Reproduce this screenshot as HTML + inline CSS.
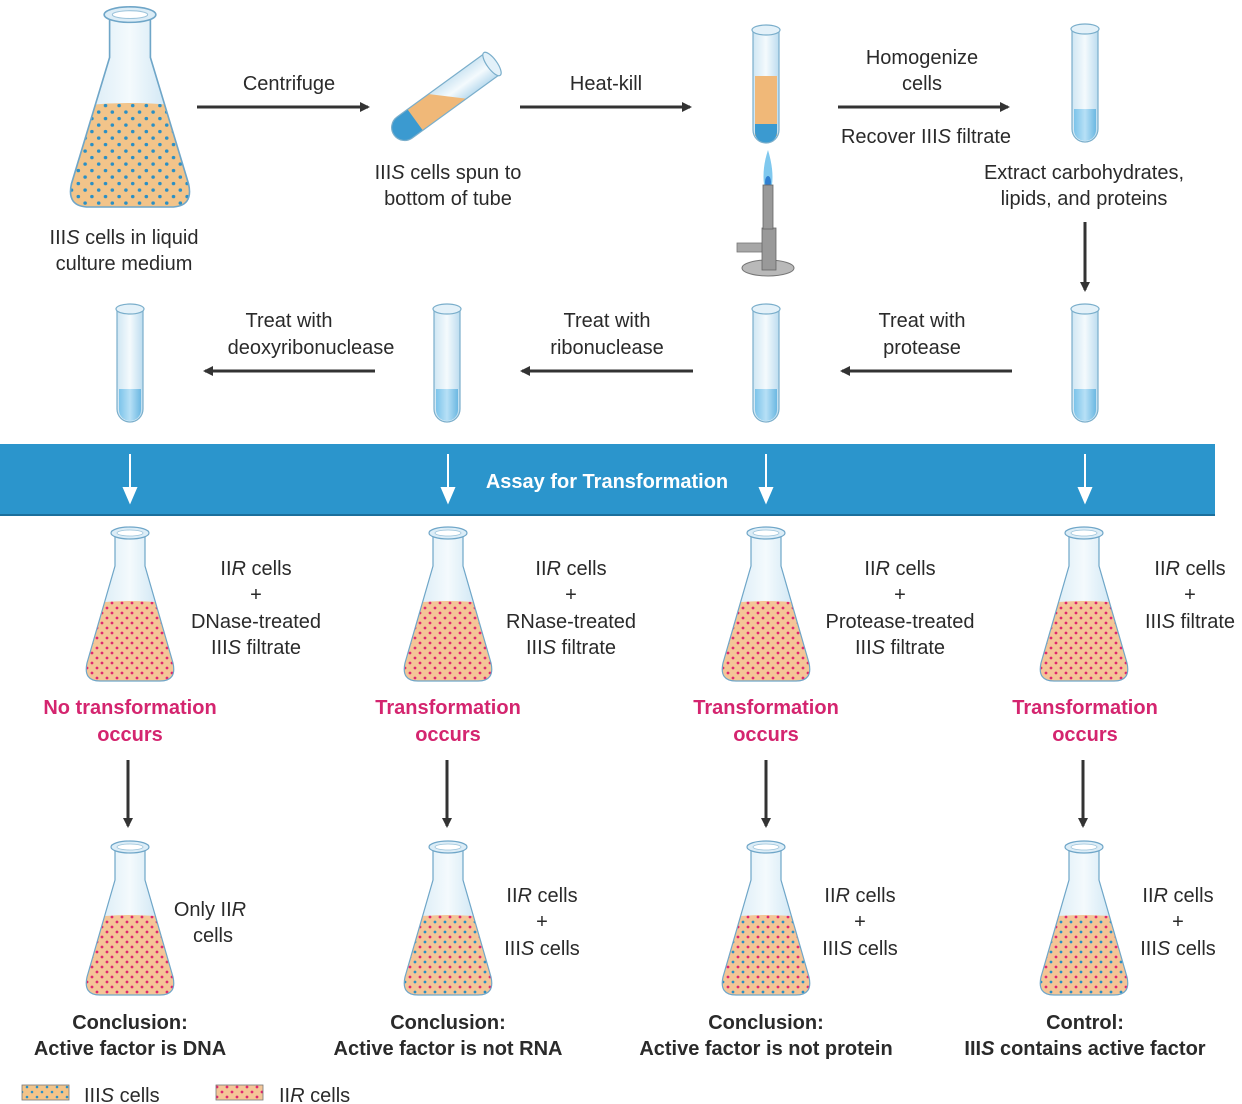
<!DOCTYPE html>
<html><head><meta charset="utf-8"><style>
html,body{margin:0;padding:0;background:#fff;}
svg{display:block;}
text{font-family:"Liberation Sans",sans-serif;font-size:20px;fill:#2a2a2a;}
.b{font-weight:bold;}
.r{fill:#d4256f;font-weight:bold;}
.c{text-anchor:middle;}
</style></head><body>
<svg width="1242" height="1104" viewBox="0 0 1242 1104" xmlns="http://www.w3.org/2000/svg">
<defs>
<pattern id="pb" width="10" height="10" patternUnits="userSpaceOnUse">
<rect width="10" height="10" fill="#f2c48a"/><circle cx="2" cy="2" r="1.3" fill="#2a8fc4"/><circle cx="7" cy="7" r="1.3" fill="#2a8fc4"/></pattern>
<pattern id="pr" width="10" height="10" patternUnits="userSpaceOnUse">
<rect width="10" height="10" fill="#f4c597"/><circle cx="2" cy="2" r="1.4" fill="#e0286e"/><circle cx="7" cy="7" r="1.4" fill="#e0286e"/></pattern>
<pattern id="pm" width="10" height="10" patternUnits="userSpaceOnUse">
<rect width="10" height="10" fill="#f4c597"/><circle cx="2" cy="2" r="1.4" fill="#e0286e"/><circle cx="7" cy="7" r="1.4" fill="#2a8fc4"/></pattern>
<linearGradient id="gl" x1="0" x2="1"><stop offset="0" stop-color="#cfe6f3"/><stop offset="0.5" stop-color="#f4fafd"/><stop offset="1" stop-color="#bcdcef"/></linearGradient>
<linearGradient id="wb" x1="0" x2="1"><stop offset="0" stop-color="#7cc4ea"/><stop offset="0.5" stop-color="#b7e0f6"/><stop offset="1" stop-color="#6cb8e2"/></linearGradient>
<clipPath id="fc"><path d="M-15,4 L-15,35 L-43,132 Q-47,150 -30,150 L30,150 Q47,150 43,132 L15,35 L15,4 Z"/></clipPath>
<clipPath id="tc"><path d="M-13,0 L-13,108 A13,13 0 0 0 13,108 L13,0 Z"/></clipPath>
<marker id="ah" markerWidth="10" markerHeight="10" refX="8" refY="5" orient="auto" markerUnits="userSpaceOnUse"><path d="M0,0 L10,5 L0,10 Z" fill="#333"/></marker>
<g id="glass">
<path d="M-15,4 L-15,35 L-43,132 Q-47,150 -30,150 L30,150 Q47,150 43,132 L15,35 L15,4 Z" fill="none" stroke="#6fa6c8" stroke-width="1.2"/>
<ellipse cx="0" cy="2" rx="19" ry="6" fill="#dcedf7" stroke="#6fa6c8" stroke-width="1.2"/><ellipse cx="0" cy="2" rx="13" ry="3" fill="#fff" stroke="#9cc3da" stroke-width="0.8"/>
</g>
<path id="fbody" d="M-15,4 L-15,35 L-43,132 Q-47,150 -30,150 L30,150 Q47,150 43,132 L15,35 L15,4 Z" fill="url(#gl)"/>
<g id="fB"><use href="#fbody"/><g clip-path="url(#fc)"><path d="M-50,74 Q0,66 50,74 L50,155 L-50,155 Z" fill="url(#pb)"/></g><use href="#glass"/></g>
<g id="fR"><use href="#fbody"/><g clip-path="url(#fc)"><path d="M-50,74 Q0,66 50,74 L50,155 L-50,155 Z" fill="url(#pr)"/></g><use href="#glass"/></g>
<g id="fM"><use href="#fbody"/><g clip-path="url(#fc)"><path d="M-50,74 Q0,66 50,74 L50,155 L-50,155 Z" fill="url(#pm)"/></g><use href="#glass"/></g>
<g id="tube"><path d="M-13,0 L-13,100 A13,13 0 0 0 13,100 L13,0 Z" fill="url(#gl)" stroke="#7aaecb" stroke-width="1.2"/><path d="M-11,80 L11,80 L11,101 A11,11 0 0 1 -11,101 Z" fill="url(#wb)"/><ellipse cx="0" cy="0" rx="14" ry="5" fill="#e3f1f9" stroke="#7aaecb" stroke-width="1.2"/></g>
</defs>

<use href="#fB" transform="translate(130,12) scale(1.36,1.3)"/>
<text class="c" x="124" y="244">III<tspan font-style="italic">S</tspan> cells in liquid</text>
<text class="c" x="124" y="270">culture medium</text>

<line x1="197" y1="107" x2="368" y2="107" stroke="#333" stroke-width="3" marker-end="url(#ah)"/>
<text class="c" x="289" y="90">Centrifuge</text>

<g transform="translate(492,64) rotate(54)">
<path d="M-13,0 L-13,108 A13,13 0 0 0 13,108 L13,0 Z" fill="url(#gl)"/>
<g clip-path="url(#tc)"><path d="M-14,70 L14,40 L14,130 L-14,130 Z" fill="#f0b878"/><rect x="-14" y="95" width="28" height="30" fill="#3b9ad0"/></g>
<path d="M-13,0 L-13,108 A13,13 0 0 0 13,108 L13,0 Z" fill="none" stroke="#7aaecb" stroke-width="1.2"/>
<ellipse cx="0" cy="0" rx="14" ry="5" fill="#e3f1f9" stroke="#7aaecb" stroke-width="1.2"/>
</g>
<text class="c" x="448" y="179">III<tspan font-style="italic">S</tspan> cells spun to</text>
<text class="c" x="448" y="205">bottom of tube</text>

<line x1="520" y1="107" x2="690" y2="107" stroke="#333" stroke-width="3" marker-end="url(#ah)"/>
<text class="c" x="606" y="90">Heat-kill</text>

<g transform="translate(766,30)">
<path d="M-13,0 L-13,100 A13,13 0 0 0 13,100 L13,0 Z" fill="url(#gl)"/>
<rect x="-11" y="46" width="22" height="60" fill="#f0b878"/><path d="M-11,94 L11,94 L11,102 A11,11 0 0 1 -11,102 Z" fill="#3b9ad0"/>
<path d="M-13,0 L-13,100 A13,13 0 0 0 13,100 L13,0 Z" fill="none" stroke="#7aaecb" stroke-width="1.2"/>
<ellipse cx="0" cy="0" rx="14" ry="5" fill="#e3f1f9" stroke="#7aaecb" stroke-width="1.2"/>
</g>
<path d="M768,150 Q774,170 772,185 L764,185 Q762,168 768,150 Z" fill="#7fc8ee"/>
<ellipse cx="768" cy="182" rx="3" ry="6" fill="#2f7fd0"/>
<ellipse cx="768" cy="268" rx="26" ry="8" fill="#b9b9b9" stroke="#777"/>
<rect x="737" y="243" width="26" height="9" fill="#a7a7a7" stroke="#777" stroke-width="0.8"/>
<rect x="762" y="228" width="14" height="42" fill="#999" stroke="#666" stroke-width="0.8"/>
<rect x="763" y="185" width="10" height="44" fill="#999" stroke="#666" stroke-width="0.8"/>

<line x1="838" y1="107" x2="1008" y2="107" stroke="#333" stroke-width="3" marker-end="url(#ah)"/>
<text class="c" x="922" y="64">Homogenize</text>
<text class="c" x="922" y="90">cells</text>
<text class="c" x="926" y="143">Recover III<tspan font-style="italic">S</tspan> filtrate</text>

<text class="c" x="1084" y="179">Extract carbohydrates,</text>
<text class="c" x="1084" y="205">lipids, and proteins</text>
<line x1="1085" y1="222" x2="1085" y2="290" stroke="#333" stroke-width="3" marker-end="url(#ah)"/>

<use href="#tube" transform="translate(1085,29)"/>
<use href="#tube" transform="translate(1085,309)"/>
<use href="#tube" transform="translate(766,309)"/>
<use href="#tube" transform="translate(447,309)"/>
<use href="#tube" transform="translate(130,309)"/>

<line x1="1012" y1="371" x2="842" y2="371" stroke="#333" stroke-width="3" marker-end="url(#ah)"/>
<text class="c" x="922" y="327">Treat with</text><text class="c" x="922" y="354">protease</text>
<line x1="693" y1="371" x2="522" y2="371" stroke="#333" stroke-width="3" marker-end="url(#ah)"/>
<text class="c" x="607" y="327">Treat with</text><text class="c" x="607" y="354">ribonuclease</text>
<line x1="375" y1="371" x2="205" y2="371" stroke="#333" stroke-width="3" marker-end="url(#ah)"/>
<text class="c" x="289" y="327">Treat with</text><text class="c" x="311" y="354">deoxyribonuclease</text>

<rect x="0" y="444" width="1215" height="72" fill="#2b95cc"/>
<line x1="0" y1="515" x2="1215" y2="515" stroke="#1c6f9c" stroke-width="2"/>
<text class="c b" x="607" y="488" style="fill:#fff;font-size:20px;">Assay for Transformation</text>
<g fill="#fff" stroke="#fff" stroke-width="2">
<line x1="130" y1="454" x2="130" y2="490"/><path d="M124,488 L136,488 L130,502 Z"/>
<line x1="448" y1="454" x2="448" y2="490"/><path d="M442,488 L454,488 L448,502 Z"/>
<line x1="766" y1="454" x2="766" y2="490"/><path d="M760,488 L772,488 L766,502 Z"/>
<line x1="1085" y1="454" x2="1085" y2="490"/><path d="M1079,488 L1091,488 L1085,502 Z"/>
</g>

<use href="#fR" transform="translate(130,531)"/>
<use href="#fR" transform="translate(448,531)"/>
<use href="#fR" transform="translate(766,531)"/>
<use href="#fR" transform="translate(1084,531)"/>

<text class="c" x="256" y="575">II<tspan font-style="italic">R</tspan> cells</text><text class="c" x="256" y="601">+</text>
<text class="c" x="256" y="628">DNase-treated</text><text class="c" x="256" y="654">III<tspan font-style="italic">S</tspan> filtrate</text>
<text class="c" x="571" y="575">II<tspan font-style="italic">R</tspan> cells</text><text class="c" x="571" y="601">+</text>
<text class="c" x="571" y="628">RNase-treated</text><text class="c" x="571" y="654">III<tspan font-style="italic">S</tspan> filtrate</text>
<text class="c" x="900" y="575">II<tspan font-style="italic">R</tspan> cells</text><text class="c" x="900" y="601">+</text>
<text class="c" x="900" y="628">Protease-treated</text><text class="c" x="900" y="654">III<tspan font-style="italic">S</tspan> filtrate</text>
<text class="c" x="1190" y="575">II<tspan font-style="italic">R</tspan> cells</text><text class="c" x="1190" y="601">+</text>
<text class="c" x="1190" y="628">III<tspan font-style="italic">S</tspan> filtrate</text>

<text class="c r" x="130" y="714">No transformation</text><text class="c r" x="130" y="741">occurs</text>
<text class="c r" x="448" y="714">Transformation</text><text class="c r" x="448" y="741">occurs</text>
<text class="c r" x="766" y="714">Transformation</text><text class="c r" x="766" y="741">occurs</text>
<text class="c r" x="1085" y="714">Transformation</text><text class="c r" x="1085" y="741">occurs</text>

<line x1="128" y1="760" x2="128" y2="826" stroke="#333" stroke-width="3" marker-end="url(#ah)"/>
<line x1="447" y1="760" x2="447" y2="826" stroke="#333" stroke-width="3" marker-end="url(#ah)"/>
<line x1="766" y1="760" x2="766" y2="826" stroke="#333" stroke-width="3" marker-end="url(#ah)"/>
<line x1="1083" y1="760" x2="1083" y2="826" stroke="#333" stroke-width="3" marker-end="url(#ah)"/>

<use href="#fR" transform="translate(130,845)"/>
<use href="#fM" transform="translate(448,845)"/>
<use href="#fM" transform="translate(766,845)"/>
<use href="#fM" transform="translate(1084,845)"/>

<text class="c" x="210" y="916">Only II<tspan font-style="italic">R</tspan></text><text class="c" x="213" y="942">cells</text>
<text class="c" x="542" y="902">II<tspan font-style="italic">R</tspan> cells</text><text class="c" x="542" y="928">+</text><text class="c" x="542" y="955">III<tspan font-style="italic">S</tspan> cells</text>
<text class="c" x="860" y="902">II<tspan font-style="italic">R</tspan> cells</text><text class="c" x="860" y="928">+</text><text class="c" x="860" y="955">III<tspan font-style="italic">S</tspan> cells</text>
<text class="c" x="1178" y="902">II<tspan font-style="italic">R</tspan> cells</text><text class="c" x="1178" y="928">+</text><text class="c" x="1178" y="955">III<tspan font-style="italic">S</tspan> cells</text>

<text class="c b" x="130" y="1029">Conclusion:</text><text class="c b" x="130" y="1055">Active factor is DNA</text>
<text class="c b" x="448" y="1029">Conclusion:</text><text class="c b" x="448" y="1055">Active factor is not RNA</text>
<text class="c b" x="766" y="1029">Conclusion:</text><text class="c b" x="766" y="1055">Active factor is not protein</text>
<text class="c b" x="1085" y="1029">Control:</text><text class="c b" x="1085" y="1055">III<tspan font-style="italic">S</tspan> contains active factor</text>

<rect x="22" y="1085" width="47" height="15" fill="url(#pb)" stroke="#777" stroke-width="0.8"/>
<text x="84" y="1102">III<tspan font-style="italic">S</tspan> cells</text>
<rect x="216" y="1085" width="47" height="15" fill="url(#pr)" stroke="#777" stroke-width="0.8"/>
<text x="279" y="1102">II<tspan font-style="italic">R</tspan> cells</text>
</svg>
</body></html>
